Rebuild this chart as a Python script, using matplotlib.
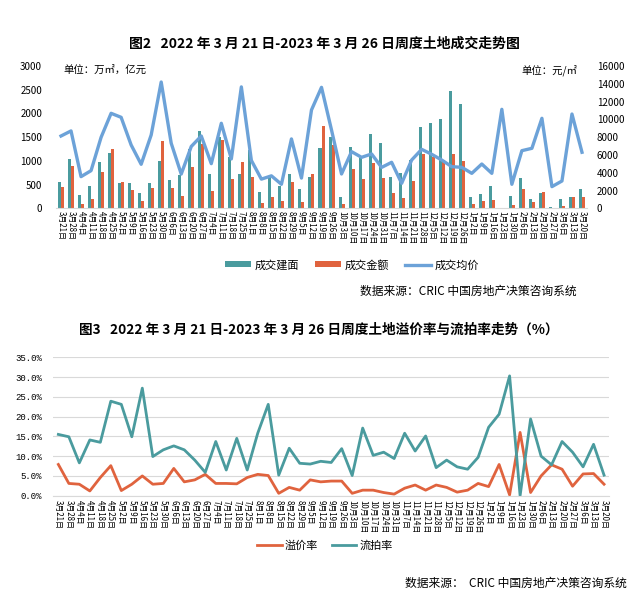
import numpy as np
import matplotlib
matplotlib.use("Agg")
import matplotlib.pyplot as plt
from matplotlib.ticker import FuncFormatter

plt.rcParams['font.family'] = ['Noto Sans CJK SC', 'DejaVu Sans']

weeks = ["3月21日", "3月28日", "4月4日", "4月11日", "4月18日", "4月25日", "5月2日",
         "5月9日", "5月16日", "5月23日", "5月30日", "6月6日", "6月13日", "6月20日",
         "6月27日", "7月4日", "7月11日", "7月18日", "7月25日", "8月1日", "8月8日",
         "8月15日", "8月22日", "8月29日", "9月5日", "9月12日", "9月19日", "9月26日",
         "10月3日", "10月10日", "10月17日", "10月24日", "10月31日", "11月7日",
         "11月14日", "11月21日", "11月28日", "12月5日", "12月12日", "12月19日",
         "12月26日", "1月2日", "1月9日", "1月16日", "1月23日", "1月30日", "2月6日",
         "2月13日", "2月20日", "2月27日", "3月6日", "3月13日", "3月20日"]

# 成交建面 (万㎡)
area = [555, 1040, 281, 471, 977, 1167, 534, 534, 323, 534, 998, 597, 710, 1250,
        1630, 724, 1500, 1089, 724, 1230, 345, 655, 480, 724, 408, 658, 1275, 1500,
        232, 1286, 1054, 1567, 1370, 654, 738, 1026, 1715, 1792, 1876, 2474, 2200,
        232, 302, 471, 8, 260, 647, 197, 330, 21, 197, 246, 400]
# 成交金额 (亿元)
amount = [450, 892, 91, 197, 766, 1251, 555, 386, 155, 429, 1419, 429, 260, 875,
          1360, 365, 1440, 615, 977, 665, 105, 235, 155, 555, 134, 724, 1736, 1335,
          91, 822, 611, 949, 647, 330, 211, 576, 1145, 1082, 1019, 1145, 998,
          91, 162, 176, 8, 70, 408, 141, 351, 5, 49, 246, 246]
# 成交均价 (元/㎡)
price = [8130, 8700, 3560, 4235, 7980, 10680, 10230, 7120, 4950, 8245, 14200, 7310,
         3850, 6950, 8130, 5020, 9560, 5550, 13650, 5380, 3280, 3650, 2700, 7800,
         3400, 11055, 13600, 8800, 3860, 6370, 5730, 6110, 4600, 5170, 2810, 5430,
         6630, 6070, 5430, 4680, 4610, 3930, 4980, 3930, 11130, 2700, 6480, 6745,
         10120, 2435, 3070, 10600, 6300]

# 溢价率 / 流拍率 (%)
premium = [7.9, 3.1, 2.9, 1.2, 4.6, 7.6, 1.3, 2.9, 5.0, 2.9, 3.1, 6.9, 3.5, 4.0,
           5.4, 3.1, 3.1, 3.0, 4.6, 5.4, 5.1, 0.6, 2.1, 1.4, 4.0, 3.5, 3.7, 3.7,
           0.6, 1.4, 1.4, 0.8, 0.4, 1.9, 2.7, 1.4, 2.7, 2.1, 0.9, 1.4, 3.1, 2.3,
           7.9, 0.2, 16.0, 0.8, 5.0, 7.8, 6.7, 2.4, 5.5, 5.6, 2.9]
unsold = [15.5, 14.9, 8.3, 14.1, 13.5, 23.9, 23.1, 14.9, 27.2, 9.9, 11.6, 12.6,
          11.6, 9.0, 5.9, 13.7, 6.5, 14.5, 6.5, 15.8, 23.1, 5.2, 12.0, 8.2, 8.0,
          8.7, 8.4, 11.9, 5.1, 17.1, 10.2, 11.0, 9.4, 15.8, 11.3, 15.1, 7.1, 9.0,
          7.3, 6.7, 9.7, 17.3, 20.6, 30.3, 0.0, 19.4, 10.0, 7.8, 13.7, 11.0, 7.3,
          13.0, 5.2]

teal = "#4A9B9E"
orange = "#E0633E"
blue = "#6CA2D8"
grid_c = "#D9D9D9"

W, H = 635, 600
fig = plt.figure(figsize=(W / 100, H / 100), dpi=100)
x = np.arange(len(weeks))

# ---------- 图2 ----------
fig.text(324 / W, 1 - 44 / H,
         "图2   2022 年 3 月 21 日-2023 年 3 月 26 日周度土地成交走势图",
         ha='center', va='center', fontsize=10, fontweight='bold')

ax1 = fig.add_axes([56 / W, 1 - 208.3 / H, 531 / W, 142.3 / H])
b1 = ax1.bar(x - 0.15, area, width=0.3, color=teal, label="成交建面")
b2 = ax1.bar(x + 0.15, amount, width=0.3, color=orange, label="成交金额")
ax1.set_xlim(-0.5, len(weeks) - 0.5)
ax1.set_ylim(0, 3000)
ax1.set_yticks(range(0, 3001, 500))
ax1.set_xticks(x)
ax1.set_xticklabels(weeks, rotation=270, fontsize=5.7)
ax1.tick_params(axis='x', length=0, pad=2)
ax1.tick_params(axis='y', length=0, pad=10, labelsize=7)

ax2 = ax1.twinx()
l1, = ax2.plot(x, price, color=blue, lw=2.4, label="成交均价")
ax2.set_ylim(0, 16000)
ax2.set_yticks(range(0, 16001, 2000))
ax2.tick_params(axis='y', length=0, pad=7, labelsize=7)

for ax in (ax1, ax2):
    for s in ax.spines.values():
        s.set_visible(False)
ax1.spines['bottom'].set_visible(True)
ax1.spines['bottom'].set_color(grid_c)

fig.text(63 / W, 1 - 70 / H, "单位：万㎡，亿元", fontsize=7.5, va='center')
fig.text(577 / W, 1 - 70 / H, "单位：元/㎡", fontsize=7.5, va='center', ha='right')

fig.legend([b1, b2, l1], ["成交建面", "成交金额", "成交均价"], loc='center',
           bbox_to_anchor=(352 / W, 1 - 265 / H), ncol=3, frameon=False,
           fontsize=8, handlelength=2.4, handleheight=0.45, columnspacing=1.4,
           handletextpad=0.3)
fig.text(577 / W, 1 - 291 / H, "数据来源：CRIC 中国房地产决策咨询系统",
         fontsize=8.5, ha='right', va='center')

# ---------- 图3 ----------
fig.text(319 / W, 1 - 330 / H,
         "图3   2022 年 3 月 21 日-2023 年 3 月 26 日周度土地溢价率与流拍率走势（%）",
         ha='center', va='center', fontsize=9.8, fontweight='bold')

ax3 = fig.add_axes([53.1 / W, 1 - 495.7 / H, 556.2 / W, 138.4 / H])
p1, = ax3.plot(x, premium, color=orange, lw=2, label="溢价率")
p2, = ax3.plot(x, unsold, color=teal, lw=2, label="流拍率")
ax3.set_xlim(-0.5, len(weeks) - 0.5)
ax3.set_ylim(0, 35)
ax3.set_yticks(range(0, 36, 5))
ax3.yaxis.set_major_formatter(FuncFormatter(lambda v, p: f"{v:.1f}%"))
ax3.grid(axis='y', color=grid_c, lw=0.8)
ax3.set_axisbelow(True)
ax3.set_xticks(x)
ax3.set_xticklabels(weeks, rotation=270, fontsize=5.7)
ax3.tick_params(axis='x', length=0, pad=3)
ax3.tick_params(axis='y', length=0, pad=8)
for t in ax3.get_yticklabels():
    t.set_fontfamily('Liberation Mono')
    t.set_fontsize(6.5)
for s in ax3.spines.values():
    s.set_visible(False)
ax3.spines['bottom'].set_visible(True)
ax3.spines['bottom'].set_color(grid_c)

fig.legend([p1, p2], ["溢价率", "流拍率"], loc='center',
           bbox_to_anchor=(325 / W, 1 - 546 / H), ncol=2, frameon=False,
           fontsize=8, handlelength=2.2, columnspacing=1.2, handletextpad=0.3)
fig.text(627 / W, 1 - 583 / H, "数据来源：  CRIC 中国房地产决策咨询系统",
         fontsize=8.5, ha='right', va='center')

fig.savefig("out.png", dpi=100)
